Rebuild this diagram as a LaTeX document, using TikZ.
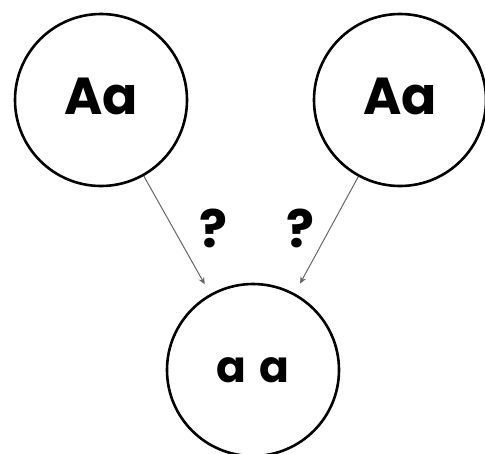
\documentclass[tikz,border=0pt]{standalone}
\usepackage{fontspec}
\setmainfont{Poppins}
\usetikzlibrary{arrows.meta, positioning}

\begin{document}
\begin{tikzpicture}[
  x=1pt, y=1pt,
  geno/.style={circle, draw=black, line width=2.6pt, minimum size=172pt, inner sep=0pt, font=\fontsize{52}{58}\selectfont\bfseries},
  query/.style={font=\fontsize{52}{58}\selectfont\bfseries},
  arrow/.style={-{Stealth[length=7pt, width=6pt]}, draw=black!60, line width=1pt, shorten >=11pt}
]
\useasboundingbox (0,0) rectangle (485,-453);

\node[geno] (mom) at (101,-100) {\raisebox{7pt}{Aa}};
\node[geno] (dad) at (400,-100) {\raisebox{7pt}{Aa}};
\node[geno, font=\fontsize{44}{50}\selectfont\bfseries] (kid) at (253,-370) {\raisebox{-4pt}{a\kern14pt a}};

\node[query] (q1) at (213,-228) {?};
\node[query] (q2) at (300,-228) {?};

\draw[arrow] (mom) -- (kid);
\draw[arrow] (dad) -- (kid);

\end{tikzpicture}
\end{document}
